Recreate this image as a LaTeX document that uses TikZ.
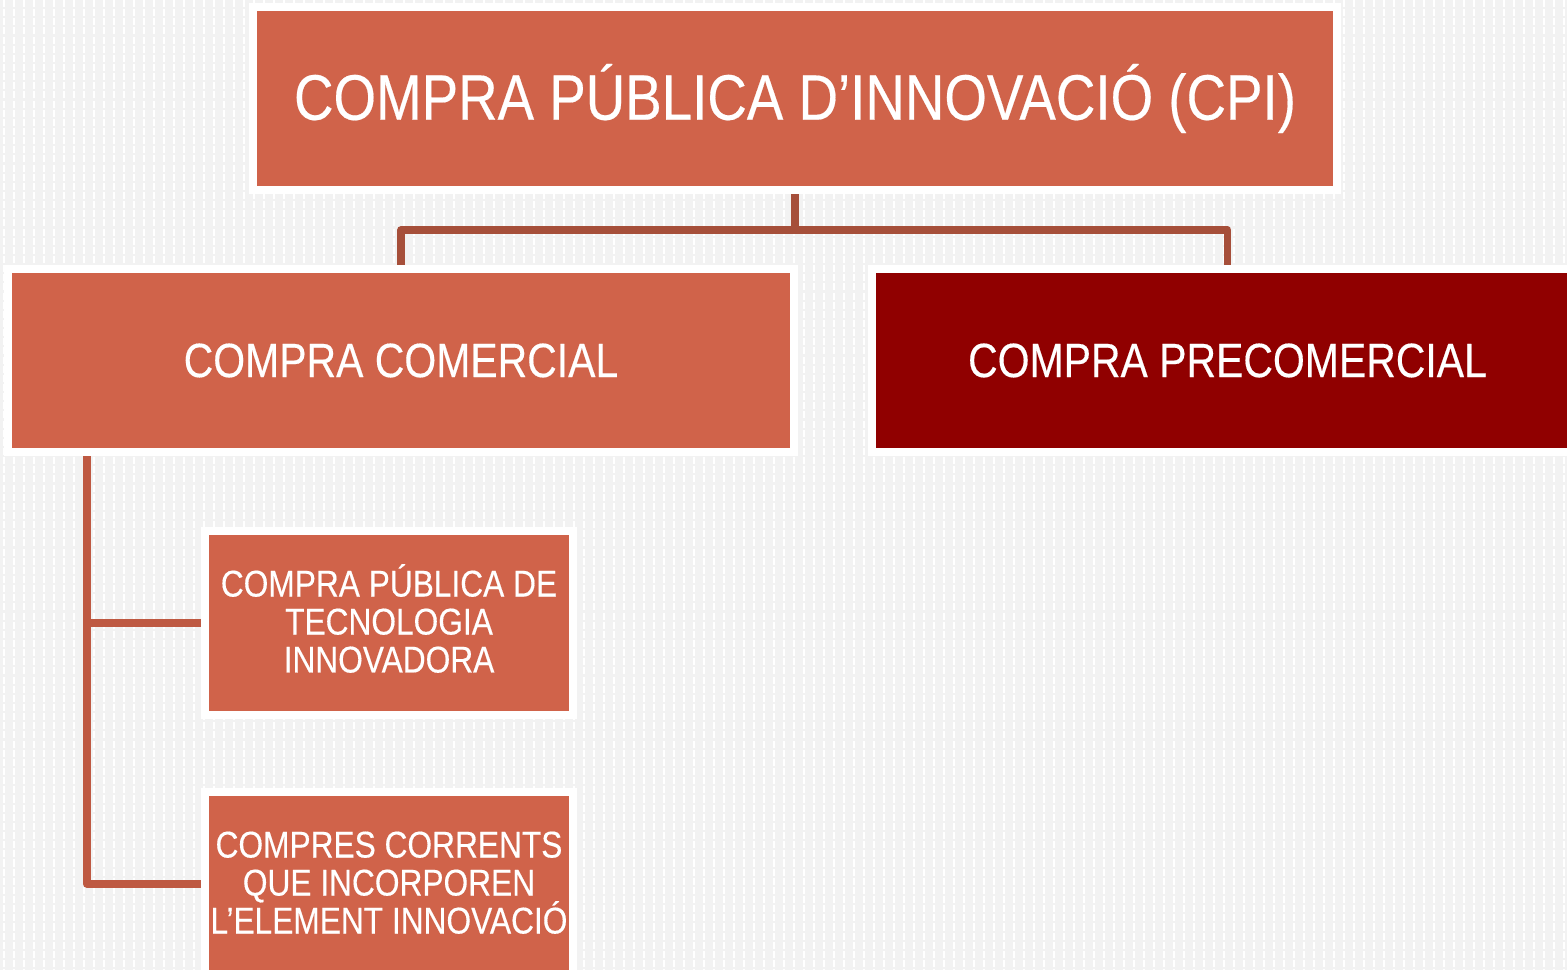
\documentclass[tikz,border=0pt]{standalone}
\usepackage{fontspec}
\setmainfont{Liberation Sans}[FakeStretch=0.85,FakeBold=0.3]
\definecolor{boxorange}{HTML}{D0634A}
\definecolor{boxred}{HTML}{900000}
\definecolor{linebrown}{HTML}{A64F3A}
\definecolor{lineorange}{HTML}{BE5942}
\definecolor{paper}{HTML}{F2F2F2}
\newcommand{\cpismallfont}{\fontsize{10.6}{10.8}\selectfont\lineskiplimit=-10pt\relax}
\begin{document}
\begin{tikzpicture}[x=0.01cm,y=-0.01cm,
    cpibox/.style={fill=boxorange, draw=white, line width=0.08cm, text=white,
      inner sep=0pt, outer sep=0.04cm, align=center, minimum height=1.83cm},
    smallbox/.style={cpibox, minimum width=3.685cm, font=\cpismallfont},
    topline/.style={draw=linebrown, line width=0.075cm},
    sideline/.style={draw=lineorange, line width=0.075cm}]
	\useasboundingbox (0,0) rectangle (1567,970);
	\fill[paper] (0,0) rectangle (1567,970);
	\foreach \x in {4,14,...,1564}
		\draw[white, line width=0.5pt, dash pattern=on 2pt off 0.6pt] (\x,0) -- (\x,970);
	\begin{scope}
		\clip (0,0) rectangle (1567,970);
		\node[cpibox, minimum width=10.84cm, font=\fontsize{18.3}{22}\selectfont] (cpi) at (795,98.5) {COMPRA PÚBLICA D’INNOVACIÓ (CPI)};
		\node[cpibox, minimum width=7.86cm, font=\fontsize{13.7}{16}\selectfont] (comercial) at (401,360.5) {COMPRA COMERCIAL};
		\node[cpibox, fill=boxred, minimum width=7.11cm, font=\fontsize{13.7}{16}\selectfont] (precomercial) at (1227.5,360.5) {COMPRA PRECOMERCIAL};
		\node[smallbox] (ptin) at (389,623) {\rule{0pt}{0.35cm}COMPRA PÚBLICA DE\\TECNOLOGIA\\INNOVADORA\rule[-0.12cm]{0pt}{0pt}};
		\node[smallbox] (ccei) at (389,884) {\rule{0pt}{0.35cm}COMPRES CORRENTS\\QUE INCORPOREN\\L’ELEMENT INNOVACIÓ\rule[-0.12cm]{0pt}{0pt}};
	\end{scope}
	\coordinate (fork) at (795,230);
	\coordinate (trunk) at ([xshift=0.83cm]comercial.south west);
	\draw[topline] (cpi.south) -- (fork);
	\draw[topline, line join=round] (comercial.north) |- (fork) -| (precomercial.north);
	\draw[sideline] (trunk) |- (ptin.west);
	\draw[sideline, line join=round] (trunk) |- (ccei.west);
\end{tikzpicture}
\end{document}
